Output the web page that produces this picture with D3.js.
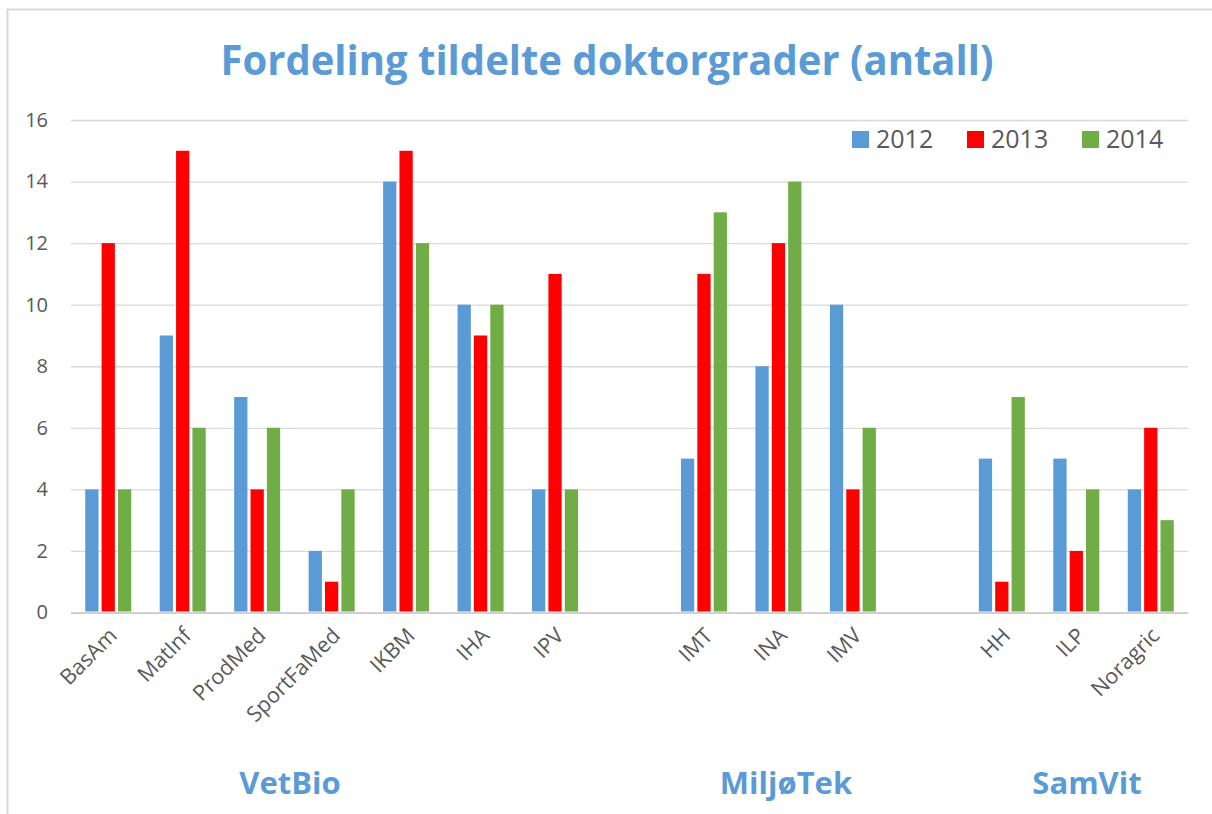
<!DOCTYPE html>
<html>
<head>
<meta charset="utf-8">
<script src="https://cdn.jsdelivr.net/npm/d3@7"></script>
<style>
  body { margin: 0; background: #fff; }
  text { font-family: "Open Sans", "Liberation Sans", sans-serif; }
</style>
</head>
<body>
<div id="chart"></div>
<script>
var width = 1212, height = 814;

// data ("" = empty spacer slot between faculties)
var categories = ["BasAm", "MatInf", "ProdMed", "SportFaMed", "IKBM", "IHA", "IPV", "",
                  "IMT", "INA", "IMV", "", "HH", "ILP", "Noragric"];
var years = ["2012", "2013", "2014"];
var v2012 = [4, 9, 7, 2, 14, 10, 4, null, 5, 8, 10, null, 5, 5, 4];
var v2013 = [12, 15, 4, 1, 15, 9, 11, null, 11, 12, 4, null, 1, 2, 6];
var v2014 = [4, 6, 6, 4, 12, 10, 4, null, 13, 14, 6, null, 7, 4, 3];
var yTicks = [0, 2, 4, 6, 8, 10, 12, 14, 16];
var faculties = ["VetBio", "MiljøTek", "SamVit"];

var colors = ["#5b9bd5", "#ff0000", "#70ad47"];
var series = [v2012, v2013, v2014];
var facultyX = [290, 786, 1087];

var margin = {left: 71, right: 24, top: 120, bottom: 201};

var svg = d3.select("#chart").append("svg")
  .attr("width", width)
  .attr("height", height);

// chart border (top + left only visible)
svg.append("path")
  .attr("d", "M7.5," + height + "V9.5H" + width)
  .attr("fill", "none")
  .attr("stroke", "#d9d9d9")
  .attr("stroke-width", 2);

var x = d3.scaleBand()
  .domain(d3.range(categories.length))
  .range([margin.left, width - margin.right]);

var x1 = d3.scaleBand()
  .domain(d3.range(years.length))
  .range([0, x.bandwidth()])
  .paddingInner(0.19)
  .paddingOuter(0.87);

var y = d3.scaleLinear()
  .domain([0, 16])
  .range([height - margin.bottom - 0.5, margin.top]);

// title
svg.append("text")
  .attr("x", 607)
  .attr("y", 75)
  .attr("text-anchor", "middle")
  .attr("fill", "#5b9bd5")
  .style("font-weight", "bold")
  .style("font-size", "42px")
  .attr("textLength", 773)
  .attr("lengthAdjust", "spacingAndGlyphs")
  .text("Fordeling tildelte doktorgrader (antall)");

// grid + y axis
var yAxis = svg.append("g")
  .attr("transform", "translate(" + margin.left + ",0)")
  .call(d3.axisLeft(y).tickValues(yTicks).tickSize(-(width - margin.left - margin.right)).tickPadding(23));
yAxis.select(".domain").remove();
yAxis.selectAll(".tick line")
  .attr("stroke", function(d) { return d === 0 ? "#d0d0d0" : "#d9d9d9"; })
  .attr("stroke-width", function(d) { return d === 0 ? 2 : 1.3; });
yAxis.selectAll(".tick text")
  .attr("fill", "#595959")
  .style("font-size", "20px")
  .style("font-family", "'Open Sans', sans-serif");

// bars
var slots = svg.append("g").selectAll("g")
  .data(categories)
  .enter().append("g")
  .attr("transform", function(d, i) { return "translate(" + x(i) + ",0)"; });

slots.selectAll("rect")
  .data(function(d, i) {
    return series.map(function(s, k) { return {k: k, v: s[i]}; })
      .filter(function(b) { return b.v !== null; });
  })
  .enter().append("rect")
  .attr("x", function(d) { return x1(d.k); })
  .attr("width", x1.bandwidth())
  .attr("y", function(d) { return y(d.v); })
  .attr("height", function(d) { return y(0) - y(d.v) - 1; })
  .attr("fill", function(d) { return colors[d.k]; });

// category labels
svg.append("g").selectAll("text")
  .data(categories)
  .enter().append("text")
  .attr("transform", function(d, i) {
    return "translate(" + (x(i) + x.bandwidth() / 2 + 10) + "," + 637 + ") rotate(-45)";
  })
  .attr("text-anchor", "end")
  .attr("fill", "#595959")
  .style("font-size", "21.5px")
  .text(function(d) { return d; });

// faculty labels
svg.append("g").selectAll("text")
  .data(faculties)
  .enter().append("text")
  .attr("x", function(d, i) { return facultyX[i]; })
  .attr("y", 794)
  .attr("text-anchor", "middle")
  .attr("fill", "#5b9bd5")
  .style("font-weight", "bold")
  .style("font-size", "31px")
  .text(function(d) { return d; });

// legend
var legendX = [852, 967, 1082];
var legend = svg.append("g").selectAll("g")
  .data(years)
  .enter().append("g")
  .attr("transform", function(d, i) { return "translate(" + legendX[i] + ",131)"; });
legend.append("rect")
  .attr("width", 17)
  .attr("height", 17)
  .attr("fill", function(d, i) { return colors[i]; });
legend.append("text")
  .attr("x", 24)
  .attr("y", 17)
  .attr("fill", "#595959")
  .style("font-size", "25px")
  .text(function(d) { return d; });
</script>
</body>
</html>
